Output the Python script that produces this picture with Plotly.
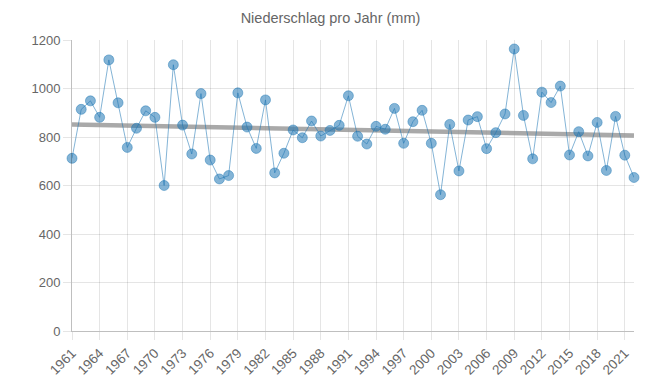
import plotly.graph_objects as go

years = list(range(1961, 2023))
precip = [712, 914, 949, 881, 1118, 941, 757, 836, 908, 881,
          600, 1098, 849, 730, 979, 705, 627, 641, 982, 841,
          753, 953, 652, 733, 829, 797, 866, 804, 827, 848,
          970, 803, 771, 844, 832, 918, 774, 863, 910, 774,
          562, 852, 660, 870, 884, 752, 818, 895, 1163, 889,
          710, 985, 942, 1010, 726, 822, 722, 860, 662, 885,
          725, 633]
trend_years = [1961, 2022]
trend_values = [852, 806]
y_ticks = [0, 200, 400, 600, 800, 1000, 1200]
x_ticks = list(range(1961, 2023, 3))

font_family = "Liberation Sans, Arial, Helvetica, sans-serif"

fig = go.Figure()
fig.add_trace(go.Scatter(
    x=trend_years, y=trend_values, mode="lines",
    line=dict(color="rgba(140,140,140,0.75)", width=4.5),
    hoverinfo="skip", showlegend=False, cliponaxis=False,
))
fig.add_trace(go.Scatter(
    x=years, y=precip, mode="lines+markers",
    line=dict(color="rgba(31,119,180,0.55)", width=1),
    marker=dict(size=10, color="rgba(31,119,180,0.55)",
                line=dict(color="rgba(31,119,180,0.45)", width=1)),
    showlegend=False, cliponaxis=False,
))

fig.update_layout(
    width=645, height=375,
    margin=dict(l=64, r=19, t=32, b=52),
    paper_bgcolor="white", plot_bgcolor="white",
    font=dict(family=font_family, color="#666", size=13),
    title=dict(text="Niederschlag pro Jahr (mm)", x=0.5, xanchor="center",
               y=0.973, yanchor="middle", font=dict(size=14.5, color="#666")),
)
fig.update_xaxes(
    range=[1961, 2022], tickmode="array", tickvals=x_ticks,
    ticktext=[str(t) for t in x_ticks], tickangle=-45, automargin=False,
    showgrid=True, gridcolor="rgba(0,0,0,0.1)", gridwidth=1,
    showline=True, linecolor="rgba(0,0,0,0.25)", linewidth=1,
    ticks="outside", ticklen=8, tickcolor="rgba(0,0,0,0.1)",
    tickfont=dict(size=13.5, color="#666"), zeroline=False,
)
fig.update_yaxes(
    range=[0, 1200], tickmode="array", tickvals=y_ticks, automargin=False,
    showgrid=True, gridcolor="rgba(0,0,0,0.1)", gridwidth=1,
    showline=True, linecolor="rgba(0,0,0,0.25)", linewidth=1,
    ticks="outside", ticklen=8, tickcolor="rgba(0,0,0,0.1)",
    tickfont=dict(size=13, color="#666"), zeroline=False,
)

fig.write_html("out.html")
